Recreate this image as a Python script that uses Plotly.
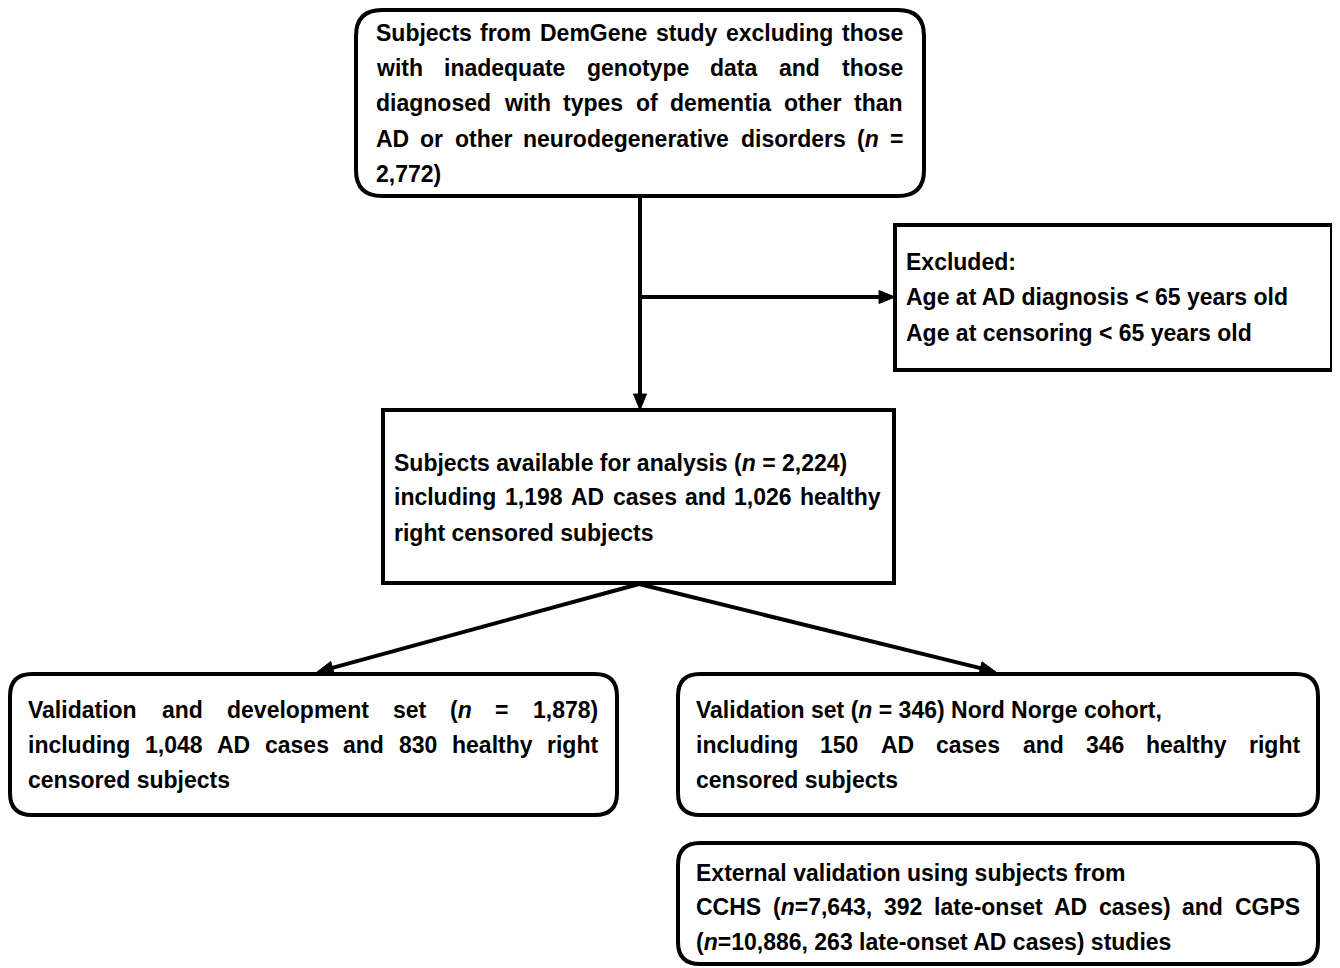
import math
import plotly.graph_objects as go

# ---------------- text content ----------------
box1_lines = [
    "Subjects from DemGene study excluding those",
    "with inadequate genotype data and those",
    "diagnosed with types of dementia other than",
    "AD or other neurodegenerative disorders (<i>n</i> =",
    "2,772)",
]
box1_justify = [True, True, True, True, False]

box2_lines = [
    "Excluded:",
    "Age at AD diagnosis &lt; 65 years old",
    "Age at censoring &lt; 65 years old",
]
box2_justify = [False, False, False]

box3_lines = [
    "Subjects available for analysis (<i>n</i> = 2,224)",
    "including 1,198 AD cases and 1,026 healthy",
    "right censored subjects",
]
box3_justify = [False, True, False]

box4_lines = [
    "Validation and development set (<i>n</i> = 1,878)",
    "including 1,048 AD cases and 830 healthy right",
    "censored subjects",
]
box4_justify = [True, True, False]

box5_lines = [
    "Validation set (<i>n</i> = 346) Nord Norge cohort,",
    "including 150 AD cases and 346 healthy right",
    "censored subjects",
]
box5_justify = [False, True, False]

box6_lines = [
    "External validation using subjects from",
    "CCHS (<i>n</i>=7,643, 392 late-onset AD cases) and CGPS",
    "(<i>n</i>=10,886, 263 late-onset AD cases) studies",
]
box6_justify = [False, True, False]

# ---------------- layout geometry ----------------
W, H = 1340, 968
OFF = 8  # default page body margin
FONT = "Liberation Sans"
FS = 23
LINE_W = 4
PAD = 2  # annotation internal padding compensation

# Arial/Liberation Sans Bold advance widths (per 1000 em)
AW = {' ': 278, '!': 333, '(': 333, ')': 333, ',': 278, '-': 333, '.': 278, ':': 333,
      '<': 584, '=': 584, '>': 584}
for d in "0123456789":
    AW[d] = 556
AW.update(dict(A=722, B=722, C=722, D=722, E=667, F=611, G=778, H=722, I=278, J=556, K=722,
               L=611, M=833, N=722, O=778, P=667, Q=778, R=722, S=667, T=611, U=722, V=667,
               W=944, X=667, Y=667, Z=611))
AW.update(dict(a=556, b=611, c=556, d=611, e=556, f=333, g=611, h=611, i=278, j=278, k=556,
               l=278, m=889, n=611, o=611, p=611, q=611, r=389, s=556, t=333, u=611, v=556,
               w=778, x=556, y=556, z=500))


def plain(s):
    return s.replace("<i>", "").replace("</i>", "").replace("&lt;", "<")


def text_w(s):
    return sum(AW.get(c, 556) for c in plain(s)) * FS / 1000.0


fig = go.Figure()
shapes = []
annotations = []


def rounded_rect(x0, y0, x1, y1, r):
    p = (f"M {x0+r},{y0} L {x1-r},{y0} Q {x1},{y0} {x1},{y0+r} "
         f"L {x1},{y1-r} Q {x1},{y1} {x1-r},{y1} L {x0+r},{y1} "
         f"Q {x0},{y1} {x0},{y1-r} L {x0},{y0+r} Q {x0},{y0} {x0+r},{y0} Z")
    shapes.append(dict(type="path", path=p, xref="x", yref="y",
                       line=dict(color="black", width=LINE_W), fillcolor="white", layer="below"))


def rect(x0, y0, x1, y1):
    shapes.append(dict(type="rect", x0=x0, y0=y0, x1=x1, y1=y1, xref="x", yref="y",
                       line=dict(color="black", width=LINE_W), fillcolor="white", layer="below"))


def word_ann(x, y, txt):
    annotations.append(dict(x=x - PAD, y=y, xref="x", yref="y", text=f"<b>{txt}</b>",
                            xanchor="left", yanchor="middle", showarrow=False,
                            font=dict(family=FONT, size=FS, color="black")))


def add_text(lines, justify, left, right, ys):
    for line, just, y in zip(lines, justify, ys):
        if not just:
            word_ann(left, y, line)
            continue
        words = line.split(" ")
        widths = [text_w(w) for w in words]
        gap = (right - left - sum(widths)) / (len(words) - 1)
        x = left
        for w, wd in zip(words, widths):
            word_ann(x, y, w)
            x += wd + gap


def line(x0, y0, x1, y1):
    shapes.append(dict(type="line", x0=x0, y0=y0, x1=x1, y1=y1, xref="x", yref="y",
                       line=dict(color="black", width=LINE_W)))


def arrow(x0, y0, x1, y1, head_len=16, head_w=13):
    dx, dy = x1 - x0, y1 - y0
    L = math.hypot(dx, dy)
    ux, uy = dx / L, dy / L
    bx, by = x1 - ux * head_len, y1 - uy * head_len
    line(x0, y0, bx + ux * 2, by + uy * 2)
    px, py = -uy, ux
    p = (f"M {x1},{y1} L {bx + px*head_w/2},{by + py*head_w/2} "
         f"L {bx - px*head_w/2},{by - py*head_w/2} Z")
    shapes.append(dict(type="path", path=p, xref="x", yref="y",
                       line=dict(color="black", width=1), fillcolor="black"))


# boxes
rounded_rect(356, 10, 924, 196, 26)
rect(895, 225, 1332, 370)
rect(383, 410, 894, 583)
rounded_rect(10, 674, 617, 815, 22)
rounded_rect(678, 674, 1318, 815, 22)
rounded_rect(678, 843, 1318, 964, 22)

# connectors
arrow(640, 196, 640, 410)
arrow(640, 297, 895, 297)
arrow(639, 584, 317, 672)
arrow(639, 584, 996, 672)

# text
add_text(box1_lines, box1_justify, 376, 903, [33, 68, 103, 139, 174])
add_text(box2_lines, box2_justify, 906, 1320, [262, 297, 333])
add_text(box3_lines, box3_justify, 394, 881, [463, 497, 533])
add_text(box4_lines, box4_justify, 28, 598, [710, 745, 780])
add_text(box5_lines, box5_justify, 696, 1300, [710, 745, 780])
add_text(box6_lines, box6_justify, 696, 1300, [873, 907, 942])

fig.update_layout(
    width=W - OFF, height=H - OFF,
    margin=dict(l=0, r=0, t=0, b=0),
    paper_bgcolor="white", plot_bgcolor="white",
    xaxis=dict(range=[OFF, W], visible=False, fixedrange=True),
    yaxis=dict(range=[H, OFF], visible=False, fixedrange=True),
    shapes=shapes, annotations=annotations, showlegend=False,
)
fig.write_html("out.html", config={"displayModeBar": False})
